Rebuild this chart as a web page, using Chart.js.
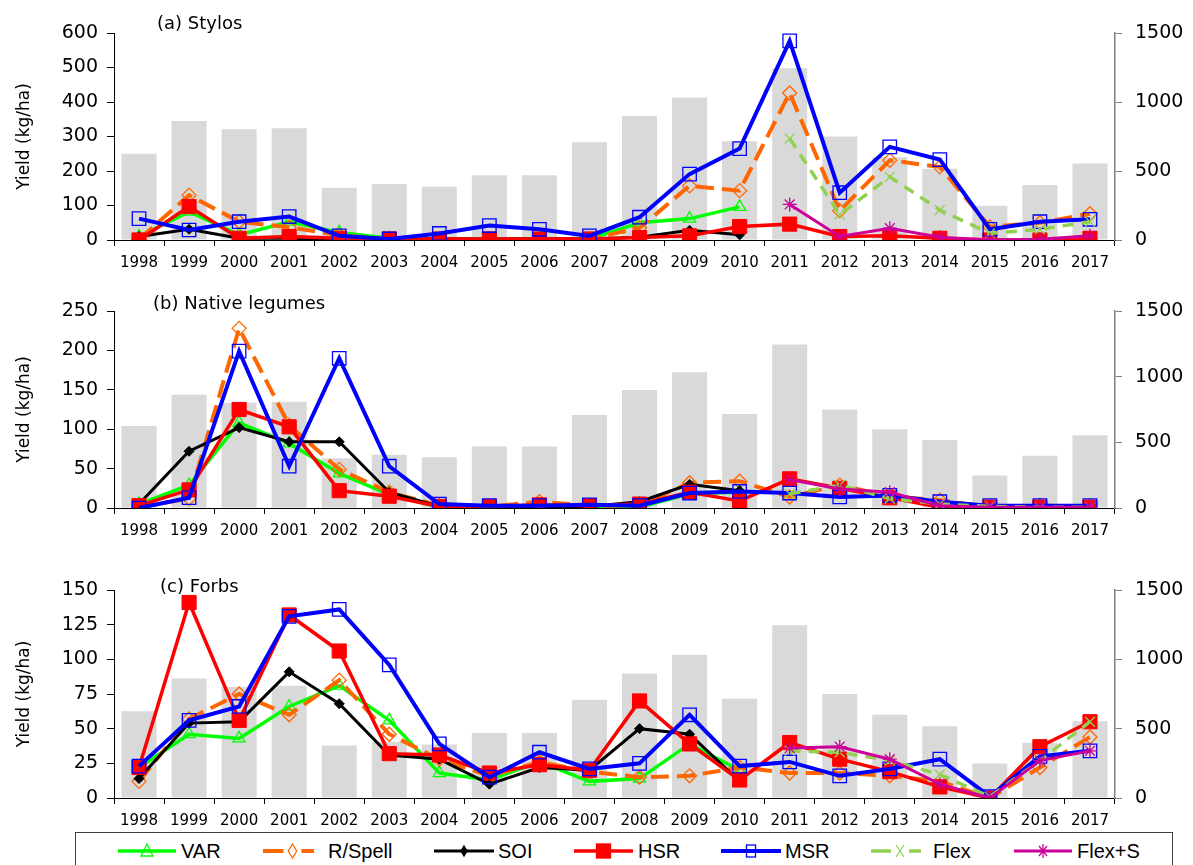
<!DOCTYPE html>
<html>
<head>
<meta charset="utf-8">
<script src="https://cdn.jsdelivr.net/npm/chart.js@4.4.1/dist/chart.umd.min.js"></script>
<style>
  body { margin: 0; background: #fff; width: 1193px; height: 865px; overflow: hidden; position: relative; }
  .panel { position: absolute; left: 0; }
  #legend { position: absolute; left: 0; top: 820px; }
</style>
</head>
<body>
<canvas id="chartA" class="panel" style="top:0px" width="1193" height="270"></canvas>
<canvas id="chartB" class="panel" style="top:280px" width="1193" height="258"></canvas>
<canvas id="chartC" class="panel" style="top:560px" width="1193" height="268"></canvas>
<svg id="legend" width="1193" height="45"></svg>
<script>
// years and growing-season rainfall (mm, right axis, same in every panel)
const years = ['1998', '1999', '2000', '2001', '2002', '2003', '2004', '2005', '2006', '2007',
               '2008', '2009', '2010', '2011', '2012', '2013', '2014', '2015', '2016', '2017'];
const rainfall = [625, 862, 802, 809, 379, 406, 386, 469, 469, 708, 898, 1033, 715, 1245, 750, 600, 517, 248, 398, 554];

// (a) Stylos yield, kg/ha
const stylosVAR = [10, 82, 15, 53, 22, 5, 3, 3, 3, 3, 50, 62, 96, null, null, null, null, null, null, null];
const stylosRSpell = [2, 130, 53, 37, 14, 2, 3, 3, 3, 3, 35, 157, 143, 426, 85, 231, 212, 38, 50, 76];
const stylosSOI = [10, 31, 5, 5, 0, 2, 3, 3, 3, 3, 8, 28, 15, null, null, null, null, null, null, null];
const stylosHSR = [0, 97, 5, 10, 5, 3, 3, 3, 3, 3, 7, 12, 39, 46, 10, 12, 5, 0, 0, 5];
const stylosMSR = [62, 29, 53, 68, 12, 3, 19, 42, 31, 12, 66, 191, 265, 577, 137, 270, 233, 31, 53, 60];
const stylosFlex = [null, null, null, null, null, null, null, null, null, null, null, null, null, 294, 74, 183, 87, 19, 31, 53];
const stylosFlexS = [null, null, null, null, null, null, null, null, null, null, null, null, null, 103, 10, 34, 8, 0, 2, 12];

// (b) Native legumes yield, kg/ha
const legVAR = [5, 29, 108, 82, 44, 17, 1, 0, 1, 1, 1, 18, 20, null, null, null, null, null, null, null];
const legRSpell = [1, 12, 228, 105, 49, 20, 3, 2, 8, 3, 3, 32, 34, 14, 29, 15, 10, 1, 3, 2];
const legSOI = [5, 72, 102, 84, 84, 20, 2, 2, 2, 2, 8, 30, 22, null, null, null, null, null, null, null];
const legHSR = [3, 23, 125, 103, 22, 15, 2, 2, 4, 3, 5, 20, 9, 37, 25, 13, 1, 1, 1, 1];
const legMSR = [0, 13, 199, 53, 190, 53, 5, 3, 3, 4, 3, 19, 21, 19, 14, 16, 8, 3, 3, 3];
const legFlex = [null, null, null, null, null, null, null, null, null, null, null, null, null, 18, 29, 12, 5, 2, 1, 1];
const legFlexS = [null, null, null, null, null, null, null, null, null, null, null, null, null, 36, 24, 20, 3, 1, 1, 1];

// (c) Forbs yield, kg/ha
const forbVAR = [22, 46, 43, 66, 81, 56, 18, 13, 26, 12, 14, 39, 20, null, null, null, null, null, null, null];
const forbRSpell = [12, 57, 75, 60, 85, 46, 28, 16, 26, 19, 15, 16, 22, 18, 18, 16, 12, 0, 22, 44];
const forbSOI = [14, 54, 55, 91, 68, 31, 28, 10, 22, 20, 50, 46, 12, null, null, null, null, null, null, null];
const forbHSR = [22, 141, 56, 132, 106, 32, 31, 18, 24, 20, 70, 39, 13, 40, 28, 19, 8, 0, 37, 55];
const forbMSR = [23, 56, 66, 131, 136, 96, 39, 15, 33, 21, 25, 60, 23, 26, 16, 21, 28, 1, 30, 34];
const forbFlex = [null, null, null, null, null, null, null, null, null, null, null, null, null, 34, 33, 27, 17, 1, 27, 55];
const forbFlexS = [null, null, null, null, null, null, null, null, null, null, null, null, null, 36, 37, 28, 10, 0, 27, 34];

const FONT = '"DejaVu Sans", Arial, sans-serif';

// look of each series
const styles = {
    VAR:    { color: '#00ff00', width: 3.5, point: 'triangle', radius: 7, fill: false },
    RSpell: { color: '#ff6600', width: 4, point: 'rectRot', radius: 7, fill: false, dash: [18, 8] },
    SOI:    { color: '#000000', width: 3, point: 'rectRot', radius: 5, fill: true },
    HSR:    { color: '#ff0000', width: 3.5, point: 'rect', radius: 10, fill: true },
    MSR:    { color: '#0000ff', width: 4, point: 'rect', radius: 9.5, fill: false },
    Flex:   { color: '#92d050', width: 3.5, point: 'crossRot', radius: 7, fill: false, dash: [11, 8] },
    FlexS:  { color: '#cc0099', width: 3, point: 'star', radius: 7, fill: false }
};

function lineSet(label, data, st, order) {
    return {
        type: 'line',
        label: label,
        data: data,
        yAxisID: 'y',
        borderColor: st.color,
        borderWidth: st.width,
        borderDash: st.dash || [],
        pointStyle: st.point,
        pointRadius: st.radius,
        pointBorderColor: st.color,
        pointBorderWidth: st.fill ? 1 : 1.3,
        pointBackgroundColor: st.fill ? st.color : 'rgba(0,0,0,0)',
        tension: 0,
        spanGaps: false,
        order: order
    };
}

// writes the "(a) Stylos" style label into the plot
const panelLabel = {
    id: 'panelLabel',
    afterDraw(chart, args, opts) {
        const ctx = chart.ctx;
        ctx.save();
        ctx.font = '18px ' + FONT;
        ctx.fillStyle = '#000';
        ctx.textBaseline = 'middle';
        ctx.fillText(opts.text, opts.x, opts.y);
        ctx.restore();
    }
};

function makePanel(id, series, yMax, yStep, padTop, label, labelX, labelY) {
    const ctx = document.getElementById(id).getContext('2d');
    return new Chart(ctx, {
        type: 'bar',
        data: {
            labels: years,
            datasets: [
                lineSet('VAR', series[0], styles.VAR, 7),
                lineSet('R/Spell', series[1], styles.RSpell, 6),
                lineSet('SOI', series[2], styles.SOI, 5),
                lineSet('HSR', series[3], styles.HSR, 4),
                lineSet('MSR', series[4], styles.MSR, 3),
                lineSet('Flex', series[5], styles.Flex, 2),
                lineSet('Flex+S', series[6], styles.FlexS, 1),
                {
                    type: 'bar',
                    label: 'Rainfall',
                    data: rainfall,
                    yAxisID: 'y1',
                    backgroundColor: '#d9d9d9',
                    barPercentage: 0.7,
                    categoryPercentage: 1,
                    order: 10
                }
            ]
        },
        options: {
            responsive: false,
            animation: false,
            layout: { padding: { top: padTop, left: 0, right: 0, bottom: 0 } },
            plugins: {
                legend: { display: false },
                tooltip: { enabled: false },
                panelLabel: { text: label, x: labelX, y: labelY }
            },
            scales: {
                x: {
                    offset: true,
                    grid: { offset: true, drawOnChartArea: false, drawTicks: true, tickLength: 6, color: '#000' },
                    border: { color: '#000', width: 1 },
                    ticks: { color: '#000', font: { family: FONT, size: 15 }, padding: 8, maxRotation: 0, autoSkip: false },
                    afterFit: function(scale) { scale.height = 30; }
                },
                y: {
                    position: 'left',
                    min: 0,
                    max: yMax,
                    grid: { drawOnChartArea: false, drawTicks: true, tickLength: 7, color: '#000' },
                    border: { color: '#000', width: 1 },
                    ticks: { stepSize: yStep, color: '#000', font: { family: FONT, size: 19 }, padding: 9,
                             callback: function(v) { return String(v); } },
                    title: { display: true, text: 'Yield (kg/ha)', color: '#000', font: { family: FONT, size: 17 }, padding: { top: 14, bottom: 0 } },
                    afterFit: function(scale) { scale.width = 114; }
                },
                y1: {
                    position: 'right',
                    min: 0,
                    max: 1500,
                    grid: { drawOnChartArea: false, drawTicks: true, tickLength: 7, color: '#808080' },
                    border: { color: '#808080', width: 1.5 },
                    ticks: { stepSize: 500, color: '#000', font: { family: FONT, size: 19 }, padding: 13,
                             callback: function(v) { return String(v); } },
                    afterFit: function(scale) { scale.width = 78; }
                }
            }
        },
        plugins: [panelLabel]
    });
}

makePanel('chartA', [stylosVAR, stylosRSpell, stylosSOI, stylosHSR, stylosMSR, stylosFlex, stylosFlexS],
          600, 100, 33, '(a) Stylos', 157, 24);
makePanel('chartB', [legVAR, legRSpell, legSOI, legHSR, legMSR, legFlex, legFlexS],
          250, 50, 31, '(b) Native legumes', 153, 24);
makePanel('chartC', [forbVAR, forbRSpell, forbSOI, forbHSR, forbMSR, forbFlex, forbFlexS],
          150, 25, 30, '(c) Forbs', 160, 27);

// legend box under the last panel
const legendItems = [
    { text: 'VAR', st: styles.VAR, x0: 118, x1: 176, tx: 181 },
    { text: 'R/Spell', st: styles.RSpell, x0: 263, x1: 322, tx: 328 },
    { text: 'SOI', st: styles.SOI, x0: 434, x1: 494, tx: 498 },
    { text: 'HSR', st: styles.HSR, x0: 574, x1: 633, tx: 638 },
    { text: 'MSR', st: styles.MSR, x0: 721, x1: 781, tx: 785 },
    { text: 'Flex', st: styles.Flex, x0: 871, x1: 929, tx: 933 },
    { text: 'Flex+S', st: styles.FlexS, x0: 1014, x1: 1072, tx: 1077 }
];

function markerSvg(st, cx, cy) {
    const c = st.color;
    const fill = st.fill ? c : 'none';
    if (st.point === 'triangle') {
        return '<path d="M' + cx + ' ' + (cy - 7) + ' L' + (cx + 6) + ' ' + (cy + 5) + ' L' + (cx - 6) + ' ' + (cy + 5) + ' Z" fill="none" stroke="' + c + '" stroke-width="1.3"/>';
    }
    if (st.point === 'rectRot') {
        const r = st.fill ? 5 : 7;
        return '<path d="M' + cx + ' ' + (cy - r) + ' L' + (cx + r * 0.6) + ' ' + cy + ' L' + cx + ' ' + (cy + r) + ' L' + (cx - r * 0.6) + ' ' + cy + ' Z" fill="' + fill + '" stroke="' + c + '" stroke-width="1.3"/>';
    }
    if (st.point === 'rect') {
        const h = st.fill ? 7 : 6;
        const w = st.fill ? 7 : 4.5;
        return '<rect x="' + (cx - w) + '" y="' + (cy - h) + '" width="' + (2 * w) + '" height="' + (2 * h) + '" fill="' + fill + '" stroke="' + c + '" stroke-width="1.3"/>';
    }
    if (st.point === 'crossRot') {
        return '<path d="M' + (cx - 4) + ' ' + (cy - 6) + ' L' + (cx + 4) + ' ' + (cy + 6) + ' M' + (cx + 4) + ' ' + (cy - 6) + ' L' + (cx - 4) + ' ' + (cy + 6) + '" stroke="' + c + '" stroke-width="1.3"/>';
    }
    // star: cross plus x
    return '<path d="M' + cx + ' ' + (cy - 7) + ' L' + cx + ' ' + (cy + 7) + ' M' + (cx - 4) + ' ' + (cy - 5) + ' L' + (cx + 4) + ' ' + (cy + 5) + ' M' + (cx + 4) + ' ' + (cy - 5) + ' L' + (cx - 4) + ' ' + (cy + 5) + '" stroke="' + c + '" stroke-width="1.3"/>';
}

let svg = '<rect x="75.5" y="12.5" width="1097" height="60" fill="#fff" stroke="#404040" stroke-width="1"/>';
const ly = 31;
legendItems.forEach(function(it) {
    let line;
    if (it.st.dash) {
        // dashed series: dash - marker - dash
        const mid = (it.x0 + it.x1) / 2;
        line = '<line x1="' + it.x0 + '" y1="' + ly + '" x2="' + (mid - 9) + '" y2="' + ly + '" stroke="' + it.st.color + '" stroke-width="' + it.st.width + '"/>' +
               '<line x1="' + (mid + 9) + '" y1="' + ly + '" x2="' + (it.x1 - 8) + '" y2="' + ly + '" stroke="' + it.st.color + '" stroke-width="' + it.st.width + '"/>';
    } else {
        line = '<line x1="' + it.x0 + '" y1="' + ly + '" x2="' + it.x1 + '" y2="' + ly + '" stroke="' + it.st.color + '" stroke-width="' + it.st.width + '"/>';
    }
    svg += line + markerSvg(it.st, (it.x0 + it.x1) / 2, ly);
    svg += '<text x="' + it.tx + '" y="' + (ly + 7) + '" font-family="Liberation Sans, Arial, sans-serif" font-size="20" fill="#000">' + it.text + '</text>';
});
document.getElementById('legend').innerHTML = svg;
</script>
</body>
</html>
